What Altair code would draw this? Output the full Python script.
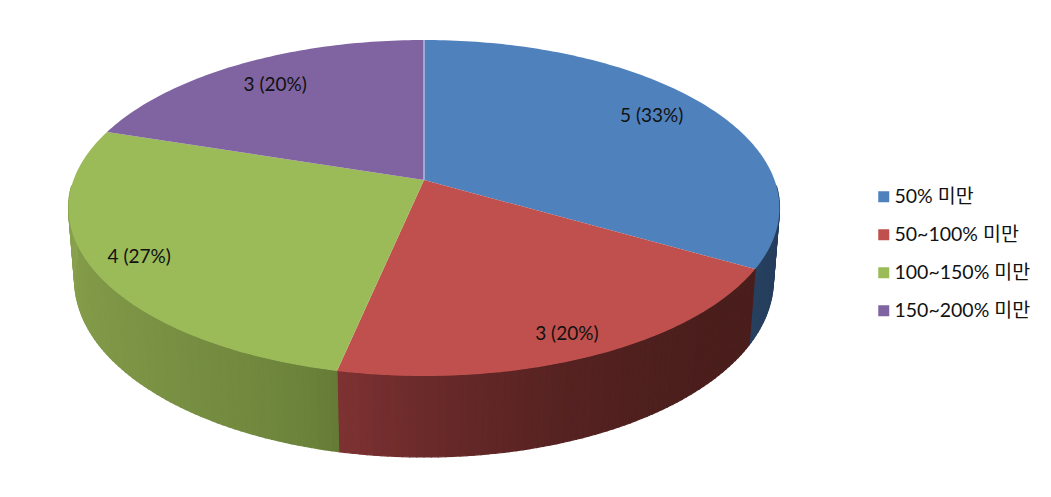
import math
import altair as alt

# ---- values ----
CATEGORIES = ["50% 미만", "50~100% 미만", "100~150% 미만", "150~200% 미만"]
COUNTS = [5, 3, 4, 3]
PERCENT_LABELS = ["5 (33%)", "3 (20%)", "4 (27%)", "3 (20%)"]

# ---- styles ----
TOP_COLORS = ["#4F81BD", "#C0504D", "#9BBB59", "#8064A2"]
# side wall shade at the clockwise start and end of each slice, with the curve of the blend
SIDE_SHADES = [("#1B2F4B", "#27405F", 1.0), ("#4A1E1C", "#803233", 2.5),
               ("#657B36", "#8FA851", 0.6), ("#8FA851", "#8FA851", 1.0)]
LABEL_RADIUS = [0.80, 0.88, 0.87, 0.80]
LABEL_NUDGE = [(0, -3), (-2, 2), (0, 0), (0, 0)]
FONT = "Lato, Noto Sans CJK KR"

# ---- perspective model of the cylinder (page pixels minus the 8px margin) ----
OX, OY = 424.0 - 8, 180.0 - 8
A, B, K = 350.5, 163.33, 1 / 6
DEPTH_Y, DEPTH_W = 72.2, 0.017
FRONT_FROM, FRONT_TO = 92.0, 268.0  # part of the wall that faces the viewer


def project(theta_deg, r=1.0, z=0.0):
    t = math.radians(theta_deg)
    u, v = r * math.sin(t), r * math.cos(t)
    w = 1 + K * v + DEPTH_W * z
    return [OX + A * u / w, OY + (-B * v + DEPTH_Y * z) / w]


def mix(c1, c2, f):
    a = [int(c1[i:i + 2], 16) for i in (1, 3, 5)]
    b = [int(c2[i:i + 2], 16) for i in (1, 3, 5)]
    return "#%02x%02x%02x" % tuple(round(x + (y - x) * f) for x, y in zip(a, b))


def frange(a, b, step=1.0):
    n = max(1, int(round((b - a) / step)))
    return [a + (b - a) * i / n for i in range(n + 1)]


total = sum(COUNTS)
starts, ends, a = [], [], 0.0
for c in COUNTS:
    starts.append(a)
    a += 360.0 * c / total
    ends.append(a)

wedges, strips, labels = [], [], []
for i, cat in enumerate(CATEGORIES):
    ring = [[OX, OY]] + [project(t) for t in frange(starts[i], ends[i])] + [[OX, OY]]
    wedges.append({"type": "Feature", "properties": {"cat": cat},
                   "geometry": {"type": "Polygon", "coordinates": [ring]}})
    ts = frange(starts[i], ends[i], 1.0)
    c0, c1, curve = SIDE_SHADES[i]
    for t0, t1 in zip(ts[:-1], ts[1:]):
        if t0 < FRONT_FROM or t1 > FRONT_TO:
            continue
        f = ((t0 - starts[i]) / (ends[i] - starts[i])) ** curve
        q = [project(t0), project(t1), project(t1, z=1), project(t0, z=1), project(t0)]
        strips.append({"type": "Feature",
                       "properties": {"c": mix(c0, c1, f)},
                       "geometry": {"type": "Polygon", "coordinates": [q]}})
    p = project((starts[i] + ends[i]) / 2, LABEL_RADIUS[i])
    labels.append({"lon": p[0] + LABEL_NUDGE[i][0], "lat": p[1] + LABEL_NUDGE[i][1],
                   "text": PERCENT_LABELS[i]})

W, H = 1035, 473
proj = dict(type="identity", scale=1, translate=[0, 0])


def fc(features):
    return alt.InlineData(values={"type": "FeatureCollection", "features": features},
                          format=alt.DataFormat(property="features", type="json"))


side = alt.Chart(fc(strips)).mark_geoshape(strokeWidth=1.2, opacity=1).encode(
    color=alt.Color("properties.c:N", scale=None),
    stroke=alt.Stroke("properties.c:N", scale=None),
).project(**proj)

top = alt.Chart(fc(wedges)).mark_geoshape(stroke=None, opacity=1).encode(
    color=alt.Color(
        "properties.cat:N",
        scale=alt.Scale(domain=CATEGORIES, range=TOP_COLORS),
        sort=CATEGORIES,
        legend=alt.Legend(title=None, orient="none", legendX=866, legendY=179,
                          symbolType="square", symbolSize=121, symbolStrokeWidth=0,
                          labelFont=FONT, labelFontSize=19.5, labelColor="#111111",
                          labelLimit=200, labelOffset=1, rowPadding=17, symbolOffset=0),
    ),
).project(**proj)

seam = alt.Chart(fc([{"type": "Feature", "properties": {},
                      "geometry": {"type": "LineString",
                                   "coordinates": [project(0), [OX, OY]]}}])
                 ).mark_geoshape(filled=False, stroke="#C9CDE4", strokeWidth=1.2).project(**proj)

text = alt.Chart(alt.Data(values=labels)).mark_text(
    font=FONT, fontSize=19, color="#111111", align="center", baseline="middle",
).encode(longitude="lon:Q", latitude="lat:Q", text="text:N").project(**proj)

chart = alt.layer(side, top, seam, text).properties(
    width=W, height=H, padding=0,
    autosize=alt.AutoSizeParams(type="none"),
).configure_view(stroke=None).resolve_scale(color="independent")

chart.save("out.html", embed_options={"renderer": "svg", "actions": False})
